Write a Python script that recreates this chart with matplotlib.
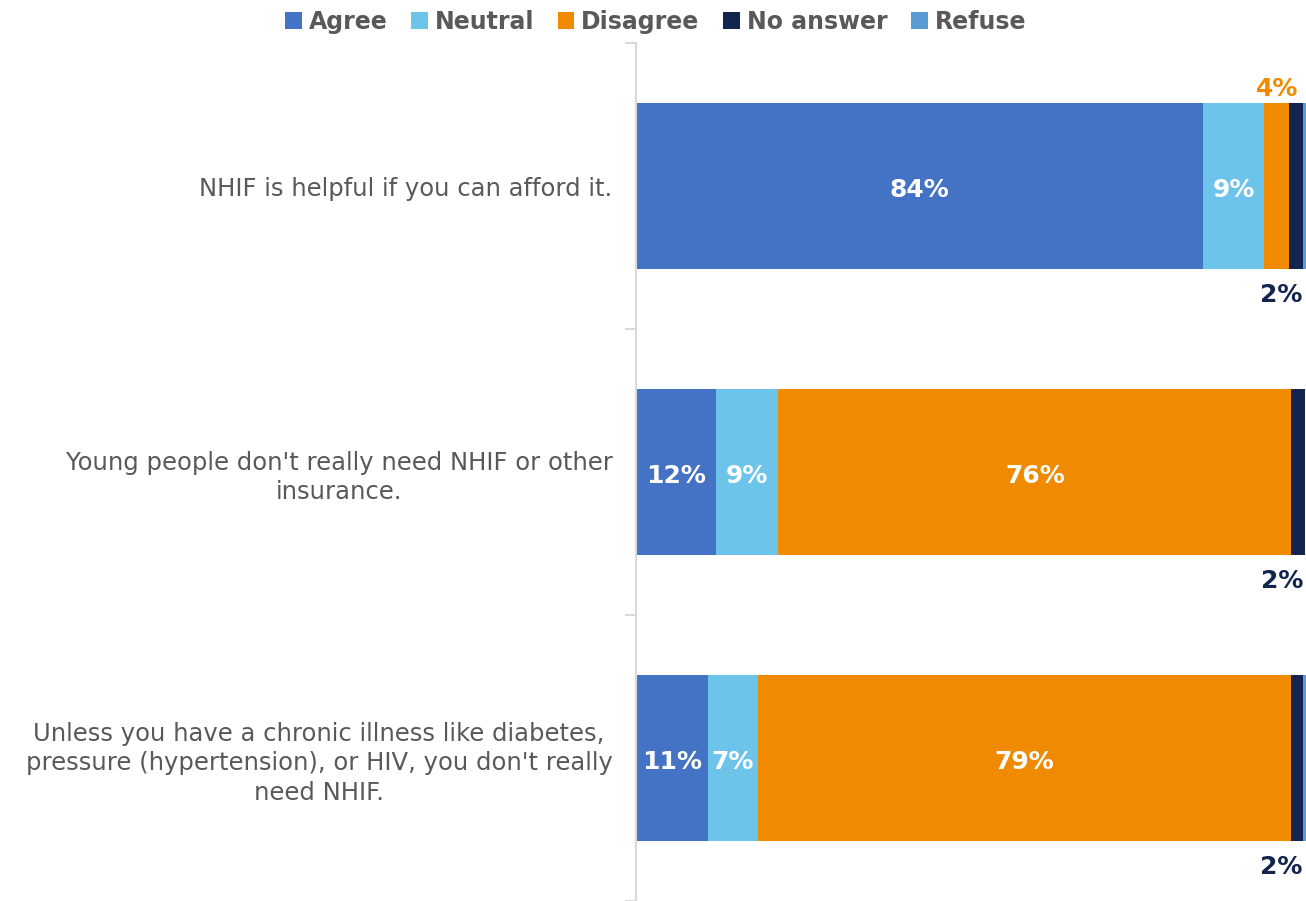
import matplotlib
matplotlib.use("Agg")
import matplotlib.pyplot as plt
import numpy as np

plt.rcParams['font.family'] = ['DejaVu Sans']

statements = [
    "NHIF is helpful if you can afford it.",
    "Young people don't really need NHIF or other\ninsurance.",
    "Unless you have a chronic illness like diabetes,\npressure (hypertension), or HIV, you don't really\nneed NHIF.",
]
series = ["Agree", "Neutral", "Disagree", "No answer", "Refuse"]
agree = [84.4, 11.9, 10.7]
neutral = [9.2, 9.3, 7.4]
disagree = [3.7, 76.4, 79.4]
no_answer = [2.0, 2.0, 1.8]
refuse = [0.5, 0.0, 0.5]

colors = ["#4472C4", "#6CC4EA", "#F08A00", "#13244F", "#5B9BD5"]
grey = "#595959"
xmax = 99.8

fig = plt.figure(figsize=(13.06, 9.01), dpi=100)
ax = fig.add_axes([0.487, 0.0, 0.513, 0.952])

ypos = np.arange(len(statements))
h = 0.58
left = np.zeros(len(statements))
for name, vals, col in zip(series, [agree, neutral, disagree, no_answer, refuse], colors):
    vals = np.array(vals)
    ax.barh(ypos, vals, left=left, height=h, color=col, label=name, edgecolor="none")
    for i, v in enumerate(vals):
        txt = f"{int(round(v))}%"
        if name in ("Agree", "Neutral", "Disagree") and v >= 5:
            ax.text(left[i] + v / 2, ypos[i] + 0.015, txt, ha="center", va="center",
                    color="white", fontsize=18, fontweight="bold")
        elif name == "Disagree" and v > 0:
            ax.text(left[i] + v / 2, ypos[i] - h / 2 - 0.05, txt, ha="center", va="center",
                    color=col, fontsize=18, fontweight="bold")
        elif name == "No answer" and v > 0:
            ax.text(min(left[i] + v, xmax - 0.4), ypos[i] + h / 2 + 0.09, txt,
                    ha="right", va="center", color=col, fontsize=18, fontweight="bold")
    left += vals

ax.set_xlim(0, xmax)
ax.set_ylim(2.5, -0.5)
ax.set_xticks([])
ax.set_yticks([-0.5, 0.5, 1.5, 2.5])
ax.set_yticklabels([])
ax.set_yticks(ypos, minor=True)
ax.set_yticklabels(statements, minor=True, ha="right", multialignment="center",
                   fontsize=17.5, color=grey, linespacing=1.3)
ax.tick_params(axis="y", which="major", length=8, color="#D9D9D9", width=1.5)
ax.tick_params(axis="y", which="minor", length=0, pad=17)
for s in ["top", "right", "bottom"]:
    ax.spines[s].set_visible(False)
ax.spines["left"].set_color("#D9D9D9")
ax.spines["left"].set_linewidth(1.5)

leg = fig.legend(loc="upper center", bbox_to_anchor=(0.502, 1.013), ncol=5, frameon=False,
                 handlelength=0.7, handleheight=0.7, handletextpad=0.3, columnspacing=1.0,
                 prop={"size": 17, "weight": "bold"})
for t in leg.get_texts():
    t.set_color(grey)

fig.savefig("out.png", dpi=100)
